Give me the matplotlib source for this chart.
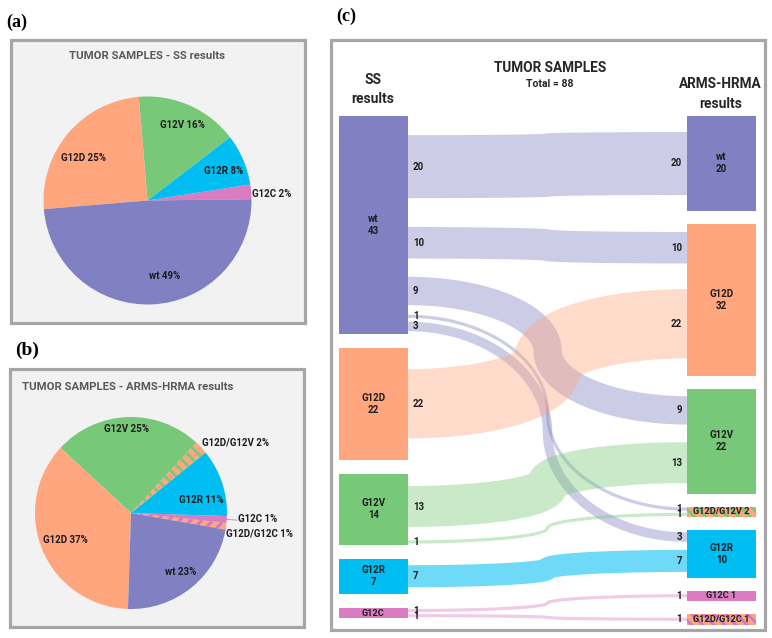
import numpy as np
import matplotlib
matplotlib.use('Agg')
import matplotlib.pyplot as plt
from matplotlib.patches import Rectangle

plt.rcParams['font.family'] = ['Roboto', 'DejaVu Sans']
plt.rcParams['hatch.linewidth'] = 2.0

# ---------------- data ----------------
ss_categories = ['G12C', 'G12R', 'G12V', 'G12D', 'wt']
ss_counts = [2, 7, 14, 22, 43]

arms_categories = ['G12D/G12C', 'G12C', 'G12R', 'G12D/G12V', 'G12V', 'G12D', 'wt']
arms_counts = [1, 1, 10, 2, 22, 32, 20]
arms_pct_labels = [1, 1, 11, 2, 25, 37, 23]

left_nodes = ['wt', 'G12D', 'G12V', 'G12R', 'G12C']
left_values = [43, 22, 14, 7, 2]
right_nodes = ['wt', 'G12D', 'G12V', 'G12D/G12V', 'G12R', 'G12C', 'G12D/G12C']
right_values = [20, 32, 22, 2, 10, 1, 1]
flow_src = ['wt', 'wt', 'wt', 'wt', 'wt', 'G12D', 'G12V', 'G12V', 'G12R', 'G12C', 'G12C']
flow_dst = ['wt', 'G12D', 'G12V', 'G12D/G12V', 'G12R', 'G12D', 'G12V', 'G12D/G12V',
            'G12R', 'G12C', 'G12D/G12C']
flow_val = [20, 10, 9, 1, 3, 22, 13, 1, 7, 1, 1]
total_samples = 88

# ---------------- styles ----------------
colors = {'wt': '#8080c2', 'G12D': '#ffa67e', 'G12V': '#78c87a', 'G12R': '#00bef2',
          'G12C': '#da7cc2'}
stripes = {'G12D/G12V': ('#ffa67e', '#78c87a'), 'G12D/G12C': ('#ffa67e', '#c97ac6')}
flow_alpha = {'wt': 0.40, 'G12D': 0.40, 'G12V': 0.40, 'G12R': 0.57, 'G12C': 0.40}
TXT = '#1c1c1c'

W, H = 772, 638
fig = plt.figure(figsize=(W / 100, H / 100), dpi=100)
base = fig.add_axes([0, 0, 1, 1])
base.set_xlim(0, W)
base.set_ylim(H, 0)
base.axis('off')


def frame(x0, y0, x1, y1, fc):
    base.add_patch(Rectangle((x0, y0), x1 - x0, y1 - y0, fc=fc, ec='#a6a6a6',
                             lw=2.3, zorder=0))


frame(11, 40, 305, 323, '#f2f2f2')
frame(10, 369, 304, 627, '#f2f2f2')
frame(331, 40, 765, 630, 'white')

serif = ['Liberation Serif', 'DejaVu Serif']
base.text(6, 22, '(a)', family=serif, fontweight='bold', fontsize=13, va='center')
base.text(15, 350, '(b)', family=serif, fontweight='bold', fontsize=14, va='center')
base.text(336, 16, '(c)', family=serif, fontweight='bold', fontsize=13, va='center')


def pie_axes(cx, cy, R, half):
    ax = fig.add_axes([(cx - half) / W, 1 - (cy + half) / H, 2 * half / W, 2 * half / H])
    ax.set_xlim(-half / R, half / R)
    ax.set_ylim(-half / R, half / R)
    ax.axis('off')
    return ax


def label_pie(ax, wedges, texts, dists, shifts, outside):
    for w, t, d, s, o in zip(wedges, texts, dists, shifts, outside):
        ang = np.deg2rad((w.theta1 + w.theta2) / 2 + s)
        ax.text(d * np.cos(ang), d * np.sin(ang), t, ha='left' if o else 'center',
                va='center', fontsize=7, fontweight='bold', color=TXT)


# ---------- (a) pie ----------
base.text(147, 59, 'TUMOR SAMPLES - SS results', ha='center', va='baseline',
          fontsize=8.2, fontweight='bold', color='#595959')
axa = pie_axes(147.5, 200.5, 109, 130)
wa, _ = axa.pie(ss_counts, colors=[colors[c] for c in ss_categories], startangle=0.7,
                counterclock=True, radius=1, wedgeprops=dict(linewidth=0))
ss_total = sum(ss_counts)
ss_texts = [f'{c} {round(100 * v / ss_total)}%' for c, v in zip(ss_categories, ss_counts)]
label_pie(axa, wa, ss_texts, [1.01, 0.78, 0.80, 0.74, 0.74], [-1.5, -2, -1, 7, 10],
          [True, False, False, False, False])

# ---------- (b) pie ----------
base.text(22, 390, 'TUMOR SAMPLES - ARMS-HRMA results', ha='left', va='baseline',
          fontsize=8.2, fontweight='bold', color='#595959')
axb = pie_axes(131, 513, 98, 120)
arms_cols = [stripes[c][0] if c in stripes else colors[c] for c in arms_categories]
wb, _ = axb.pie(arms_counts, colors=arms_cols, startangle=-10, counterclock=True,
                radius=1, wedgeprops=dict(linewidth=0))
for w, c in zip(wb, arms_categories):
    if c in stripes:
        w.set_edgecolor(stripes[c][1])
        w.set_linewidth(0)
        w.set_hatch('\\\\\\' if c == 'G12D/G12V' else '///')
arms_texts = [f'{c} {p}%' for c, p in zip(arms_categories, arms_pct_labels)]
label_pie(axb, wb, arms_texts, [1.01, 1.12, 0.74, 1.04, 0.88, 0.74, 0.80],
          [-4, 0.5, -8.5, 1.5, 0.7, 0, 1], [True, True, False, True, False, False, False])
# leader line for small G12C slice
wc = wb[arms_categories.index('G12C')]
ang = np.deg2rad((wc.theta1 + wc.theta2) / 2)
axb.plot([0.99 * np.cos(ang), 1.11 * np.cos(ang)], [0.99 * np.sin(ang), 1.10 * np.sin(ang)],
         color='#a6a6a6', lw=0.7)

# ---------- (c) sankey ----------
LX0, LX1 = 339, 408
RX0, RX1 = 687, 756
TOP = 116


def layout(values, scale, gap, min_h):
    out, y = [], TOP
    for v in values:
        h = max(v * scale, min_h)
        out.append((y, h))
        y += h + gap
    return out


left_lay = layout(left_values, 5.07, 14, 10)
right_lay = layout(right_values, 4.75, 13, 10.5)


def slot_centers(nodes, lay, values, keys):
    centers = [0.0] * len(flow_val)
    for i, n in enumerate(nodes):
        y, h = lay[i]
        acc = 0
        for j, k in enumerate(keys):
            if k == n:
                centers[j] = y + h * (acc + flow_val[j] / 2) / values[i]
                acc += flow_val[j]
    return centers


ys0 = slot_centers(left_nodes, left_lay, left_values, flow_src)
ys1 = slot_centers(right_nodes, right_lay, right_values, flow_dst)

FLOW_SCALE = 3.15


def flow_path(y0, y1, n=200):
    a = (RX0 - LX1) / 2
    b = (y1 - y0) / 2
    th = np.linspace(0, np.pi / 2, n)
    xa = LX1 + a * np.sin(th)
    ya = y0 + b * (1 - np.cos(th))
    thr = th[::-1]
    xb = RX0 - a * np.sin(thr)
    yb = y1 - b * (1 - np.cos(thr))
    return np.r_[xa, xb[1:]], np.r_[ya, yb[1:]]


for s, d, v, y0, y1 in zip(flow_src, flow_dst, flow_val, ys0, ys1):
    x, y = flow_path(y0, y1)
    base.plot(x, y, color=colors[s], alpha=flow_alpha[s], lw=v * FLOW_SCALE * 0.72,
              solid_capstyle='butt', solid_joinstyle='round', zorder=2)
    base.text(LX1 + 5, y0, str(v), ha='left', va='center', fontsize=7,
              fontweight='bold', color=TXT, zorder=5)
    base.text(RX0 - 5, y1, str(v), ha='right', va='center', fontsize=7,
              fontweight='bold', color=TXT, zorder=5)


def draw_nodes(nodes, lay, values, x0, x1, right):
    for n, (y, h), v in zip(nodes, lay, values):
        if n in stripes:
            r = Rectangle((x0, y), x1 - x0, h, fc=stripes[n][0], ec=stripes[n][1], lw=0,
                          hatch='\\\\\\', zorder=3)
        else:
            r = Rectangle((x0, y), x1 - x0, h, fc=colors[n], lw=0, zorder=3)
        base.add_patch(r)
        if h >= 20:
            lab, fs = f'{n}\n{v}', 7
        else:
            lab, fs = (f'{n} {v}' if right else n), 6.6
        base.text((x0 + x1) / 2, y + h / 2, lab, ha='center', va='center', fontsize=fs,
                  fontweight='bold', color=TXT, zorder=5, linespacing=1.25)


draw_nodes(left_nodes, left_lay, left_values, LX0, LX1, False)
draw_nodes(right_nodes, right_lay, right_values, RX0, RX1, True)

HC = '#262626'
base.text(373, 84, 'SS', ha='center', va='baseline', fontsize=10, fontweight='bold', color=HC)
base.text(373, 103, 'results', ha='center', va='baseline', fontsize=10, fontweight='bold', color=HC)
base.text(550, 72, 'TUMOR SAMPLES', ha='center', va='baseline', fontsize=9.8,
          fontweight='bold', color=HC)
base.text(550, 87, f'Total = {total_samples}', ha='center', va='baseline', fontsize=7.5,
          fontweight='bold', color=HC)
base.text(720, 88, 'ARMS-HRMA', ha='center', va='baseline', fontsize=9.8,
          fontweight='bold', color=HC)
base.text(721, 108, 'results', ha='center', va='baseline', fontsize=10,
          fontweight='bold', color=HC)

fig.savefig('out.png', dpi=100)
